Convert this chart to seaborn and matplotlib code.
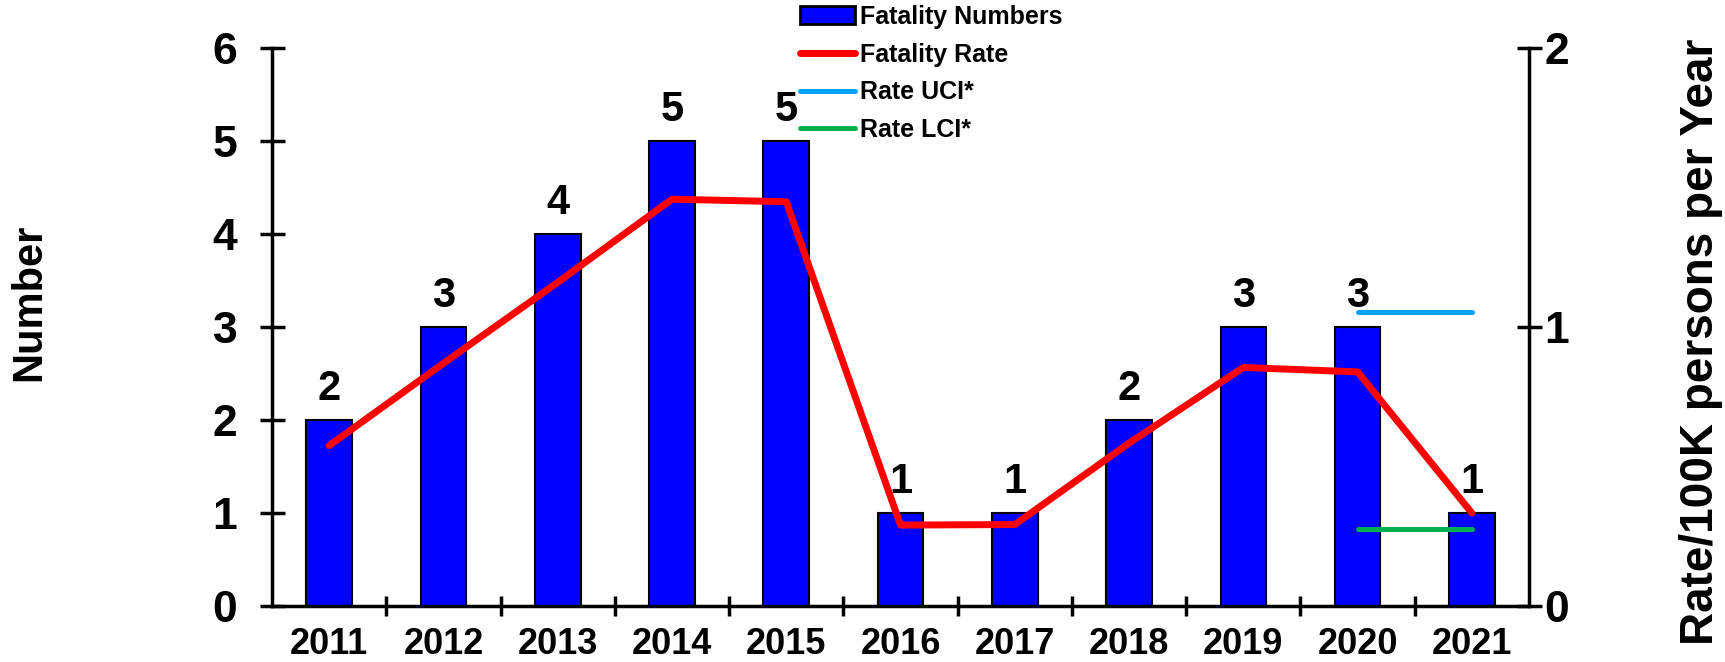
import numpy as np
import matplotlib
matplotlib.use("Agg")
import matplotlib.pyplot as plt
from matplotlib.patches import Patch
from matplotlib.lines import Line2D
import seaborn as sns

# data
years = [2011, 2012, 2013, 2014, 2015, 2016, 2017, 2018, 2019, 2020, 2021]
fatalities = [2, 3, 4, 5, 5, 1, 1, 2, 3, 3, 1]
rate = [0.575, 0.87, 1.16, 1.458, 1.449, 0.29, 0.292, 0.584, 0.855, 0.839, 0.333]
rate_uci = [np.nan] * 9 + [1.054, 1.054]
rate_lci = [np.nan] * 9 + [0.276, 0.276]

sns.set_style("white")
plt.rcParams["font.family"] = ["Liberation Sans", "DejaVu Sans"]
plt.rcParams["font.weight"] = "bold"
plt.rcParams["text.color"] = "black"
plt.rcParams["axes.labelcolor"] = "black"
plt.rcParams["xtick.color"] = "black"
plt.rcParams["ytick.color"] = "black"

fig = plt.figure(figsize=(17.25, 6.62), dpi=100)
ax = fig.add_axes([0.1577, 0.0846, 0.8864 - 0.1577, 0.9275 - 0.0846])

sns.barplot(x=years, y=fatalities, native_scale=True, width=0.4,
            color="#0000FF", saturation=1, edgecolor="black", linewidth=1.5, ax=ax)
ax.bar_label(ax.containers[0], fontsize=30, fontweight="bold", color="black",
             padding=8)

ax2 = ax.twinx()
sns.lineplot(x=years, y=rate, color="#FF0000", linewidth=5, ax=ax2,
             solid_capstyle="round", solid_joinstyle="round")
sns.lineplot(x=years, y=rate_uci, color="#00A2FF", linewidth=3.6, ax=ax2,
             solid_capstyle="round")
sns.lineplot(x=years, y=rate_lci, color="#00B050", linewidth=3.6, ax=ax2,
             solid_capstyle="round")

ax.set_xlim(years[0] - 0.5, years[-1] + 0.5)
ax.set_ylim(0, 6)
ax2.set_ylim(0, 2)
ax.set_yticks(range(0, 7))
ax2.set_yticks([0, 1, 2])
ax.set_xticks(years)
ax.set_xticks(np.array(years[:-1]) + 0.5, minor=True)

for a in (ax, ax2):
    for s in a.spines.values():
        s.set_visible(False)
ax.spines["left"].set_visible(True)
ax.spines["bottom"].set_visible(True)
ax2.spines["right"].set_visible(True)
for s in (ax.spines["left"], ax.spines["bottom"], ax2.spines["right"]):
    s.set_linewidth(2.5)
    s.set_color("black")

ax.tick_params(axis="x", which="major", length=0, pad=15, labelsize=26)
ax.tick_params(axis="x", which="minor", direction="inout", length=14, width=2.5,
               bottom=True)
ax.tick_params(axis="y", direction="inout", length=18, width=2.5, pad=16,
               labelsize=32, left=True)
ax2.tick_params(axis="y", direction="inout", length=18, width=2.5, pad=2,
                labelsize=32, right=True)
for lab in ax.get_xticklabels() + ax.get_yticklabels() + ax2.get_yticklabels():
    lab.set_fontweight("bold")

ax.set_xlabel("")
ax.set_ylabel("")
ax2.set_ylabel("")
fig.text(0.017, 0.544, "Number", rotation=90, ha="center", va="center",
         fontsize=30, fontweight="bold")
fig.text(0.986, 0.483, "Rate/100K persons per Year", rotation=90, ha="center",
         va="center", fontsize=33, fontweight="bold")

handles = [
    Patch(facecolor="#0000FF", edgecolor="black", linewidth=2),
    Line2D([], [], color="#FF0000", linewidth=5, solid_capstyle="round"),
    Line2D([], [], color="#00A2FF", linewidth=3.6, solid_capstyle="round"),
    Line2D([], [], color="#00B050", linewidth=3.6, solid_capstyle="round"),
]
labels = ["Fatality Numbers", "Fatality Rate", "Rate UCI*", "Rate LCI*"]
leg = ax2.legend(handles, labels, loc="upper left", bbox_to_anchor=(0.412, 1.095),
                 frameon=False, fontsize=18, handlelength=2.2, handletextpad=0.2,
                 labelspacing=0.55, borderaxespad=0)
for t in leg.get_texts():
    t.set_fontweight("bold")

fig.savefig("out.png", dpi=100)
